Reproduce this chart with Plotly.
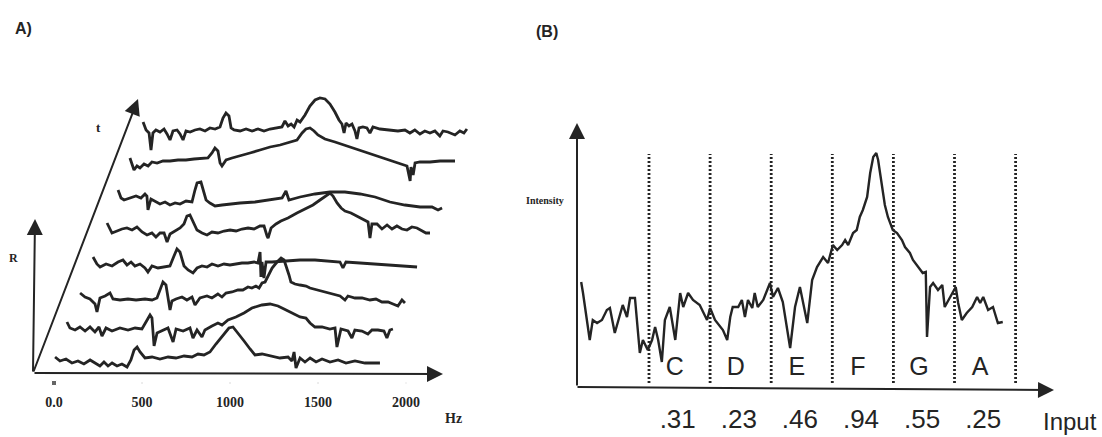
import plotly.graph_objects as go

# ---------------- Panel A: waterfall of spectra (freq in Hz, amplitude R) ----------------
s0_hz = [6,34,68,102,136,170,205,239,261,284,307,330,358,386,415,437,455,472,489,517,557,602,648,693,739,784,818,852,886,920,955,994,1017,1045,1080,1114,1142,1182,1227,1284,1330,1352,1364,1375,1398,1426,1455,1489,1523,1568,1614,1659,1710,1767,1852]
s0_amp = [8,4,6,2,4,1,5,1,-1,3,-1,2,-1,1,-2,5,15,18,13,7,8,6,8,7,9,8,11,10,13,21,29,37,38,32,24,16,10,11,9,7,8,4,13,-3,7,3,7,3,6,3,5,2,4,2,2]

s1_hz = [2,19,48,76,105,133,161,184,201,224,258,303,349,389,428,451,474,485,497,514,548,576,605,622,662,701,718,741,769,786,826,860,883,917,962,1008,1053,1110,1156,1201,1247,1292,1326,1360,1383,1411,1451,1496,1525,1536,1559,1599,1621,1638,1678,1712,1735,1769,1803,1820,1837,1854]
s1_amp = [10,4,2,5,1,5,0,5,-4,4,1,4,2,4,3,10,17,14,-14,-1,2,4,-10,3,1,4,-6,2,-5,2,6,9,7,12,15,19,24,27,28,26,22,18,15,14,9,5,5,3,4,-15,3,1,-6,2,1,-2,2,2,1,-6,2,3]

s2_hz = [5,33,61,90,101,118,147,175,192,232,277,323,374,414,442,459,476,493,505,516,527,550,584,612,641,658,686,726,754,788,811,834,868,902,930,959,981,1004,1022,1039,1056,1073,1096,1124,1147,1164,1181,1192,1203,1226,1255,1289,1311,1357,1397,1436,1482,1510,1527,1567,1607,1652,1686,1720,1755,1783,1811,1834,1851]
s2_amp = [6,2,0,-5,-13,1,3,6,0,-1,0,-1,0,-1,1,9,17,14,-1,-11,-2,0,2,-1,2,-6,1,3,1,5,2,6,7,9,9,12,11,13,11,16,17,23,31,37,41,39,31,24,17,15,14,13,11,9,7,5,3,-1,3,1,1,-1,0,-3,-3,-5,-7,-1,-4]

s3_hz = [7,29,47,81,115,149,177,200,223,245,274,302,319,342,376,410,444,467,484,501,524,547,575,598,626,655,683,717,751,785,819,853,887,922,944,956,961,967,978,990,1024,1098,1183,1268,1353,1410,1427,1444,1524,1609,1694,1780,1848]
s3_amp = [9,2,-1,2,0,4,6,1,4,0,2,-2,-6,0,-2,-1,0,10,17,14,0,-4,-7,-2,0,-1,2,0,2,1,2,3,3,4,3,14,-11,4,-12,4,4,5,6,6,5,4,-2,4,3,2,1,0,-1]

s4_hz = [15,32,43,72,100,128,157,185,214,242,270,293,316,339,356,373,401,430,452,469,486,503,526,555,583,611,645,680,714,748,782,816,850,884,907,924,930,947,975,1003,1043,1094,1140,1185,1225,1259,1282,1299,1322,1345,1367,1401,1435,1469,1498,1509,1520,1549,1577,1606,1634,1662,1691,1719,1747,1776,1804,1827,1850]
s4_amp = [10,3,0,2,4,5,3,6,1,-2,0,-4,0,0,-9,-1,2,5,9,17,18,11,3,0,-2,1,0,2,3,2,4,5,4,7,7,-3,-5,5,9,12,15,20,24,28,33,37,40,37,30,25,22,20,17,14,11,-5,9,9,4,8,4,7,4,3,6,5,2,0,0]

s5_hz = [6,23,40,74,108,136,159,170,176,193,216,244,273,301,330,358,392,426,443,455,477,489,506,528,557,597,642,699,784,869,938,960,977,1040,1125,1210,1295,1381,1466,1551,1636,1722,1790,1824,1847]
s5_amp = [10,2,0,2,4,2,6,4,-10,1,-1,-4,-2,-5,-3,-4,-1,-2,10,17,18,10,0,-3,-6,-5,-4,-3,-2,0,2,9,0,3,6,8,8,6,3,-2,-5,-7,-7,-10,-8]

s6_hz = [2,14,25,42,59,82,105,127,156,190,230,275,320,366,411,445,468,485,502,514,525,548,582,627,684,741,798,855,911,951,980,1002,1025,1048,1070,1110,1167,1252,1338,1423,1508,1553,1576,1588,1594,1599,1611,1622,1650,1707,1764,1849]
s6_amp = [9,2,-3,1,-1,3,1,5,4,6,6,7,7,8,9,9,14,19,16,4,1,7,9,11,14,17,20,22,25,27,34,38,39,36,32,28,25,20,15,10,5,2,1,-9,-14,0,-8,4,5,5,6,6]

s7_hz = [5,22,39,50,61,78,101,124,141,158,175,198,215,232,249,272,300,328,357,385,414,442,459,476,493,505,522,556,590,624,658,692,726,760,794,811,829,846,863,880,897,925,953,982,1010,1039,1067,1095,1118,1135,1147,1158,1175,1192,1209,1220,1232,1254,1277,1294,1311,1351,1408,1453,1493,1521,1549,1578,1606,1635,1663,1691,1709,1737,1777,1805,1828,1845]
s7_amp = [12,4,1,-16,1,4,2,5,0,-6,3,4,0,-6,3,2,4,5,3,6,5,7,16,21,18,6,4,3,5,3,5,3,5,6,7,13,8,10,7,14,12,19,28,34,36,35,30,22,14,10,1,11,8,10,3,-5,6,7,6,1,7,5,4,3,4,1,4,0,3,1,3,-2,3,2,-1,3,1,5]

spectra = [(s0_hz, s0_amp), (s1_hz, s1_amp), (s2_hz, s2_amp), (s3_hz, s3_amp),
           (s4_hz, s4_amp), (s5_hz, s5_amp), (s6_hz, s6_amp), (s7_hz, s7_amp)]

hz_ticks = [0, 500, 1000, 1500, 2000]
hz_tick_labels = ["0.0", "500", "1000", "1500", "2000"]

# ---------------- Panel B: intensity vs input notes ----------------
notes = ["C", "D", "E", "F", "G", "A"]
inputs = [".31", ".23", ".46", ".94", ".55", ".25"]

# position in note-band units (band k spans k..k+1), intensity
b_pos = [-1.11,-1.08,-0.97,-0.92,-0.85,-0.77,-0.69,-0.64,-0.56,-0.47,-0.43,-0.36,-0.31,-0.23,-0.15,-0.10,-0.02,0.05,0.10,0.15,0.21,0.26,0.34,0.43,0.51,0.56,0.64,0.72,0.83,0.95,1.00,1.08,1.21,1.28,1.33,1.37,1.46,1.52,1.57,1.62,1.69,1.73,1.78,1.87,1.98,2.03,2.11,2.19,2.31,2.39,2.47,2.59,2.67,2.75,2.85,2.93,3.01,3.08,3.16,3.21,3.26,3.34,3.40,3.45,3.50,3.57,3.62,3.67,3.72,3.75,3.81,3.86,3.91,3.99,4.06,4.14,4.19,4.27,4.32,4.40,4.48,4.53,4.55,4.60,4.65,4.73,4.80,4.84,4.93,4.98,5.02,5.06,5.12,5.20,5.29,5.37,5.42,5.47,5.55,5.63,5.71,5.79]
intensity = [104,93,46,66,63,66,76,78,53,73,81,69,88,88,33,46,36,46,59,46,24,66,79,46,93,79,93,86,81,66,78,66,56,46,69,79,79,86,69,86,78,93,79,86,103,89,98,84,38,79,99,63,106,119,129,123,141,136,141,146,141,153,156,169,176,189,213,229,233,226,199,181,169,156,153,146,139,133,126,119,113,114,49,99,103,96,101,79,89,96,99,83,66,73,79,89,83,89,76,79,63,64]

# ---------------- layout constants ----------------
W, H = 1102, 437
PX_PER_HZ = 0.176          # horizontal scale of panel A
HZ0_PX = 54                 # pixel of 0 Hz
BASE0 = 365                 # pixel row of first spectrum baseline
DX_HZ = 12.6 / PX_PER_HZ    # perspective shift per spectrum (Hz units)
DY = 33                     # vertical shift per spectrum
INK = "#242424"

BAND_PX = 61.1
BAND0_PX = 649
IBASE = 386

fig = go.Figure()

# Panel A spectra
for i, (hz, amp) in enumerate(spectra):
    fig.add_trace(go.Scatter(
        x=[h + i * DX_HZ for h in hz],
        y=[a + i * DY for a in amp],
        mode="lines", line=dict(color=INK, width=2.8),
        hoverinfo="skip", showlegend=False, xaxis="x", yaxis="y"))

# Panel A tick marks and labels
fig.add_trace(go.Scatter(
    x=hz_ticks, y=[-18] * len(hz_ticks), mode="markers",
    marker=dict(symbol="square", size=[5, 2, 2, 2, 2],
                color=[INK, "#999", "#999", "#999", "#bbb"]),
    hoverinfo="skip", showlegend=False, xaxis="x", yaxis="y"))
fig.add_trace(go.Scatter(
    x=hz_ticks, y=[-38] * len(hz_ticks), mode="text",
    text=[f"<b>{t}</b>" for t in hz_tick_labels],
    textfont=dict(family="Liberation Serif", size=14, color=INK),
    hoverinfo="skip", showlegend=False, xaxis="x", yaxis="y"))

# Panel B dotted band boundaries
bx, by = [], []
for k in range(len(notes) + 1):
    bx += [k, k, None]
    by += [3, 232, None]
fig.add_trace(go.Scatter(
    x=bx, y=by, mode="lines",
    line=dict(color=INK, width=2.8, dash="2px,2px"),
    hoverinfo="skip", showlegend=False, xaxis="x2", yaxis="y2"))

# Panel B spectrum
fig.add_trace(go.Scatter(
    x=b_pos, y=intensity, mode="lines",
    line=dict(color=INK, width=2.4),
    hoverinfo="skip", showlegend=False, xaxis="x2", yaxis="y2"))

# Panel B note letters and input values
fig.add_trace(go.Scatter(
    x=[k + 0.42 for k in range(len(notes))], y=[17] * len(notes),
    mode="text", text=notes,
    textfont=dict(family="Liberation Sans", size=25, color=INK),
    hoverinfo="skip", showlegend=False, xaxis="x2", yaxis="y2"))
fig.add_trace(go.Scatter(
    x=[k + 0.47 for k in range(len(inputs))], y=[-35] * len(inputs),
    mode="text", text=inputs,
    textfont=dict(family="Liberation Sans", size=26, color=INK),
    hoverinfo="skip", showlegend=False, xaxis="x2", yaxis="y2"))

def hzpx(px):
    return (px - HZ0_PX) / PX_PER_HZ

def rpx(py):
    return BASE0 - py

def bpx(px):
    return (px - BAND0_PX) / BAND_PX

def ipx(py):
    return IBASE - py

arrow = dict(showarrow=True, arrowhead=2, arrowsize=1.6, arrowwidth=2.0,
             arrowcolor=INK, text="", standoff=0, startstandoff=0)

annotations = [
    # panel A axes
    dict(xref="x", yref="y", axref="x", ayref="y",
         x=hzpx(443), y=rpx(374), ax=hzpx(33), ay=rpx(373), **arrow),
    dict(xref="x", yref="y", axref="x", ayref="y",
         x=hzpx(35), y=rpx(219), ax=hzpx(33), ay=rpx(373), **arrow),
    dict(xref="x", yref="y", axref="x", ayref="y",
         x=hzpx(138), y=rpx(99), ax=hzpx(33), ay=rpx(373), **arrow),
    # panel B axes
    dict(xref="x2", yref="y2", axref="x2", ayref="y2",
         x=bpx(577), y=ipx(123), ax=bpx(577), ay=ipx(387), **arrow),
    dict(xref="x2", yref="y2", axref="x2", ayref="y2",
         x=bpx(1054), y=ipx(390), ax=bpx(576), ay=ipx(387), **arrow),
]

def label(text, x, y, size, family="Liberation Serif", bold=False, xanchor="center"):
    t = f"<b>{text}</b>" if bold else text
    return dict(text=t, x=x / W, y=1 - y / H, xref="paper", yref="paper",
                showarrow=False, xanchor=xanchor, yanchor="middle",
                font=dict(family=family, size=size, color=INK))

annotations += [
    label("A)", 23, 28, 16, "Liberation Sans", True),
    label("(B)", 547, 32, 16, "Liberation Sans", True),
    label("R", 13, 258, 12, "Liberation Serif", True),
    label("t", 98, 128, 13, "Liberation Serif", True),
    label("Hz", 453, 418, 14, "Liberation Serif", True),
    label("Intensity", 566, 200, 10, "Liberation Serif", True, "right"),
    label("Input", 1070, 421, 24, "Liberation Sans", False),
]

fig.update_layout(
    width=W, height=H,
    margin=dict(l=0, r=0, t=0, b=0),
    paper_bgcolor="white", plot_bgcolor="white",
    xaxis=dict(domain=[0, 551 / W], range=[hzpx(0), hzpx(551)], visible=False, fixedrange=True),
    yaxis=dict(domain=[0, 1], range=[rpx(H), rpx(0)], visible=False, fixedrange=True),
    xaxis2=dict(domain=[551 / W, 1], range=[bpx(551), bpx(W)], visible=False, fixedrange=True),
    yaxis2=dict(domain=[0, 1], range=[ipx(H), ipx(0)], visible=False, fixedrange=True,
                anchor="x2"),
    annotations=annotations,
    showlegend=False,
)

fig.write_html(
    "out.html",
    config={"displayModeBar": False},
    post_script="document.body.style.margin='0';document.body.style.overflow='hidden';",
)
